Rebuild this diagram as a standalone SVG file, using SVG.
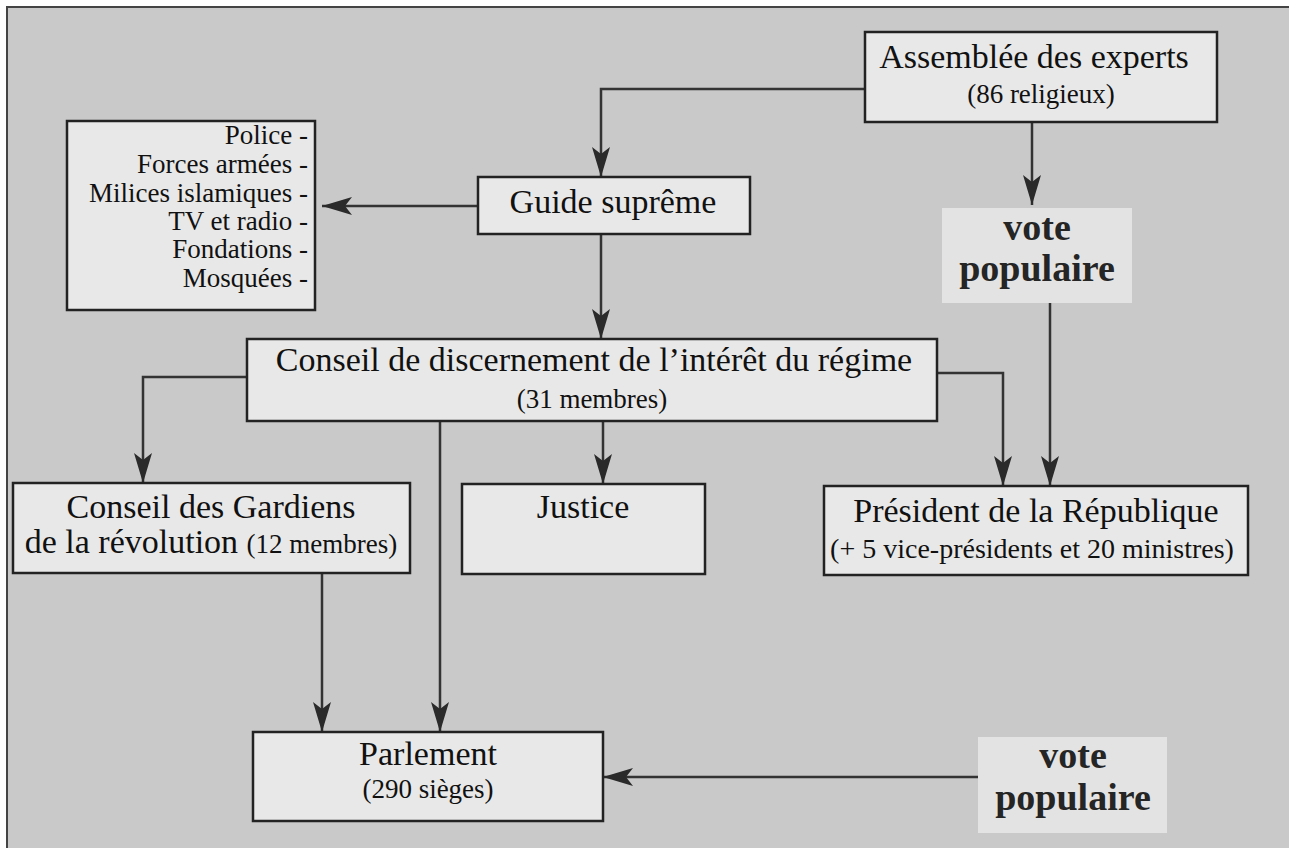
<svg xmlns="http://www.w3.org/2000/svg" width="1289" height="848" viewBox="0 0 1289 848">
<style>
.bg{fill:#c9c9c9}
.box{fill:#e8e8e8;stroke:#222;stroke-width:2.5}
.lbl{fill:#e3e3e3}
.t{font-family:"Liberation Serif","Times New Roman",serif;fill:#111}
.main{font-size:34px}
.sub{font-size:27px}
.list{font-size:27px}
.vote{font-size:38px;font-weight:bold;fill:#252525}
.c{text-anchor:middle}
.e{text-anchor:end}
.conn{fill:none;stroke:#333;stroke-width:2.5}
</style>
<defs>
<marker id="ah" viewBox="0 0 30 20" refX="30" refY="10" markerWidth="30" markerHeight="20" markerUnits="userSpaceOnUse" orient="auto">
<path d="M0,1 L30,10 L0,19 L7,10 z" fill="#2a2a2a"/>
</marker>
</defs>
<rect x="0" y="0" width="1289" height="848" fill="#ffffff"/>
<rect class="bg" x="7" y="7" width="1282" height="841"/>
<path d="M7,848 V7 H1289" fill="none" stroke="#444" stroke-width="2"/>

<g id="connectors">
<path class="conn" d="M865,89 H601 V177" marker-end="url(#ah)"/>
<path class="conn" d="M1032,122 V205" marker-end="url(#ah)"/>
<path class="conn" d="M478,206 H322" marker-end="url(#ah)"/>
<path class="conn" d="M601,234 V339" marker-end="url(#ah)"/>
<path class="conn" d="M247,377 H143 V483" marker-end="url(#ah)"/>
<path class="conn" d="M603,421 V484" marker-end="url(#ah)"/>
<path class="conn" d="M937,373 H1003 V486" marker-end="url(#ah)"/>
<path class="conn" d="M1050,303 V486" marker-end="url(#ah)"/>
<path class="conn" d="M440,421 V732" marker-end="url(#ah)"/>
<path class="conn" d="M322,573 V732" marker-end="url(#ah)"/>
<path class="conn" d="M978,777 H603" marker-end="url(#ah)"/>
</g>

<g id="assemblee">
<rect class="box" x="865" y="32" width="352" height="90"/>
<text class="t main c" x="1034" y="68">Assemblée des experts</text>
<text class="t sub c" x="1041" y="103">(86 religieux)</text>
</g>

<g id="vote1">
<rect class="lbl" x="942" y="208" width="190" height="95"/>
<text class="t vote c" x="1037" y="240">vote</text>
<text class="t vote c" x="1037" y="281">populaire</text>
</g>

<g id="liste">
<rect class="box" x="67" y="121" width="248" height="189"/>
<text class="t list e" x="308" y="144">Police -</text>
<text class="t list e" x="308" y="173">Forces armées -</text>
<text class="t list e" x="308" y="202">Milices islamiques -</text>
<text class="t list e" x="308" y="230">TV et radio -</text>
<text class="t list e" x="308" y="258">Fondations -</text>
<text class="t list e" x="308" y="287">Mosquées -</text>
</g>

<g id="guide">
<rect class="box" x="478" y="177" width="272" height="57"/>
<text class="t main c" x="613" y="213">Guide suprême</text>
</g>

<g id="conseil-discernement">
<rect class="box" x="247" y="339" width="690" height="82"/>
<text class="t main c" x="594" y="371">Conseil de discernement de l’intérêt du régime</text>
<text class="t sub c" x="592" y="408">(31 membres)</text>
</g>

<g id="gardiens">
<rect class="box" x="13" y="483" width="397" height="90"/>
<text class="t main c" x="211" y="518">Conseil des Gardiens</text>
<text class="t main c" x="211" y="553">de la révolution <tspan font-size="27">(12 membres)</tspan></text>
</g>

<g id="justice">
<rect class="box" x="462" y="484" width="243" height="90"/>
<text class="t main c" x="583" y="518">Justice</text>
</g>

<g id="president">
<rect class="box" x="824" y="486" width="424" height="89"/>
<text class="t main c" x="1036" y="522">Président de la République</text>
<text class="t c" font-size="28" x="1032" y="558">(+ 5 vice-présidents et 20 ministres)</text>
</g>

<g id="parlement">
<rect class="box" x="253" y="732" width="350" height="89"/>
<text class="t main c" x="428" y="765">Parlement</text>
<text class="t sub c" x="428" y="798">(290 sièges)</text>
</g>

<g id="vote2">
<rect class="lbl" x="978" y="737" width="189" height="96"/>
<text class="t vote c" x="1073" y="768">vote</text>
<text class="t vote c" x="1073" y="810">populaire</text>
</g>
</svg>
